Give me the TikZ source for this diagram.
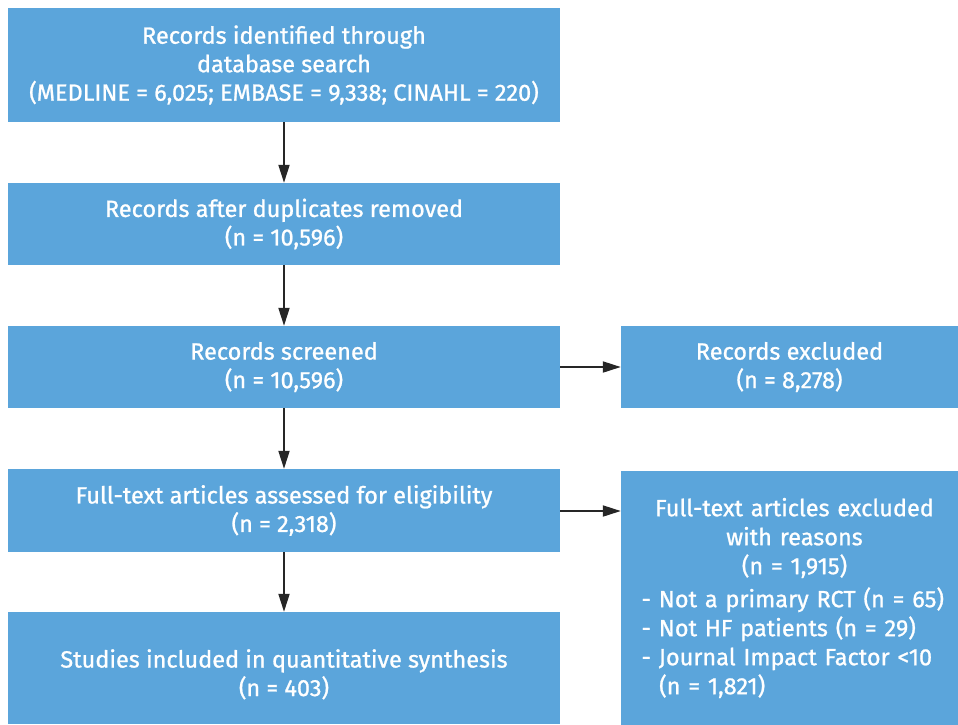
\documentclass[tikz,border=0pt]{standalone}
\usepackage{fontspec}
\setmainfont{Fira Sans}[FakeBold=1]
\usepackage{tikz}
\usetikzlibrary{arrows.meta}
\definecolor{boxblue}{RGB}{91,165,219}

\begin{document}
\begin{tikzpicture}[x=1pt,y=-1pt,
  box/.style={fill=boxblue, text=white, inner sep=0pt, align=center,
    font=\fontsize{23.5}{28.5}\selectfont},
  leftbox/.style={box, minimum width=552pt},
  rightbox/.style={box, minimum width=337pt},
  flow/.style={-{Triangle[length=18pt,width=11pt]}, line width=1.9pt, black!85}]
\useasboundingbox (0,0) rectangle (958,724);
\node[leftbox, minimum height=114pt] (ident) at (284,65) {Records identified through\\ database search\\ (MEDLINE = 6,025; EMBASE = 9,338; CINAHL = 220)};
\node[leftbox, minimum height=82pt] (dupl) at (284,224) {Records after duplicates removed\\ (n = 10,596)};
\node[leftbox, minimum height=82pt] (screen) at (284,367) {Records screened\\ (n = 10,596)};
\node[leftbox, minimum height=83pt] (full) at (284,510.5) {Full-text articles assessed for eligibility\\ (n = 2,318)};
\node[leftbox, minimum height=112pt] (incl) at (284,668) {\rule{0pt}{31pt}Studies included in quantitative synthesis\\ (n = 403)};
\node[rightbox, minimum height=82pt] (excl) at (789.5,367) {Records excluded\\ (n = 8,278)};
\node[rightbox, minimum height=255pt, text width=322pt, align=left,
  font=\fontsize{23.5}{29}\selectfont] (fullexcl) at (789.5,598) {{\centering\leftskip=10pt plus 1fil Full-text articles excluded\\ with reasons\\ (n~=~1,915)\par}
\vspace{4pt}{\leftskip=13pt
- Not a primary RCT (n~=~65)\\
- Not HF patients (n~=~29)\\
- Journal Impact Factor <10\\
\hspace*{0.75em}(n~=~1,821)\par}};
\draw[flow] (ident) -- (dupl);
\draw[flow] (dupl) -- (screen);
\draw[flow] (screen) -- (full);
\draw[flow] (full) -- (incl);
\draw[flow] (screen) -- (excl);
\draw[flow] (full.east |- 0,511) -- (fullexcl.west |- 0,511);
\end{tikzpicture}
\end{document}
